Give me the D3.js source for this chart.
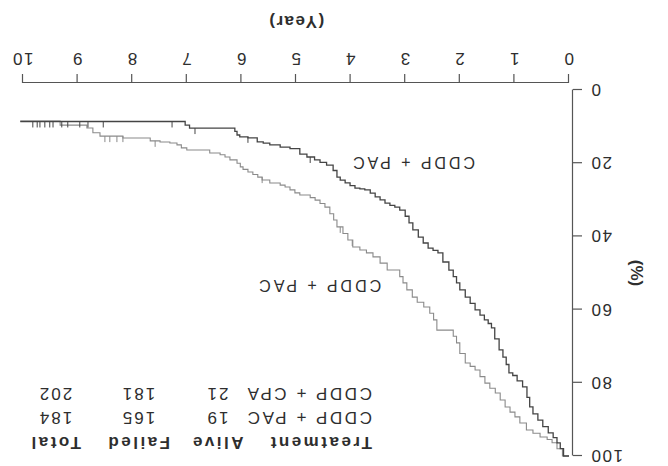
<!DOCTYPE html>
<html>
<head>
<meta charset="utf-8">
<script src="https://cdn.jsdelivr.net/npm/d3@7"></script>
<style>
  body { margin: 0; background: #fff; }
  svg { display: block; font-family: "Liberation Sans", Arial, sans-serif; }
</style>
</head>
<body>
<script>
// scanned figure is printed upside down, so the whole chart is turned 180deg
const yearTicks = [0, 1, 2, 3, 4, 5, 6, 7, 8, 9, 10];
const pctTicks = [0, 20, 40, 60, 80, 100];

// darker curve (falls faster)
const darkYears = [0, 0.1, 0.16, 0.22, 0.29, 0.38, 0.48, 0.57, 0.66, 0.72, 0.77, 0.85, 0.95, 1.03, 1.1, 1.15, 1.21, 1.28, 1.36, 1.42, 1.48, 1.55, 1.63, 1.72, 1.81, 1.9, 2.0, 2.06, 2.12, 2.2, 2.31, 2.4, 2.49, 2.58, 2.67, 2.76, 2.86, 2.93, 3.0, 3.1, 3.19, 3.28, 3.37, 3.46, 3.55, 3.64, 3.74, 3.83, 3.92, 4.01, 4.1, 4.19, 4.25, 4.32, 4.44, 4.56, 4.66, 4.8, 4.93, 5.11, 5.29, 5.48, 5.6, 5.71, 5.88, 6.03, 6.08, 6.12, 6.95, 7.03, 10.05];
const darkPct = [100, 98, 96.4, 95, 93.7, 92, 90.2, 88.5, 86.6, 84, 81.1, 79.5, 78, 77.3, 75, 73, 71, 68, 65, 63.8, 62.8, 61.5, 60.1, 58.3, 56.6, 54.6, 52.7, 51, 49.2, 47, 44.5, 43.8, 43.2, 41.8, 40.2, 38.2, 36.3, 34.5, 32.8, 32, 31.5, 30.9, 30, 29.2, 28.2, 27.3, 27, 26.8, 26.1, 25.4, 24.6, 23.8, 22, 20.5, 19.8, 19.1, 18.3, 17.5, 16, 15.6, 15, 14.5, 14.2, 13.1, 12.8, 12.3, 11.3, 10.4, 9.6, 8.6, 8.6];
const darkCensor = [4.74, 5.88, 6.85, 7.27, 8.53, 8.81, 8.96, 9.18, 9.29, 9.45, 9.51, 9.6, 9.69, 9.74, 9.82];

// lighter curve
const lightYears = [0, 0.12, 0.22, 0.31, 0.4, 0.53, 0.66, 0.78, 0.9, 0.99, 1.08, 1.17, 1.26, 1.35, 1.45, 1.54, 1.63, 1.72, 1.81, 1.9, 2.0, 2.06, 2.12, 2.42, 2.48, 2.55, 2.66, 2.78, 2.87, 2.97, 3.04, 3.1, 3.33, 3.46, 3.59, 3.71, 3.83, 3.96, 4.05, 4.14, 4.25, 4.31, 4.38, 4.47, 4.56, 4.65, 4.74, 4.93, 5.02, 5.11, 5.2, 5.29, 5.48, 5.62, 5.7, 5.79, 5.88, 5.97, 6.02, 6.08, 6.21, 6.3, 6.39, 6.58, 7.0, 7.1, 7.18, 7.31, 7.49, 7.67, 8.17, 8.59, 8.72, 8.83, 9.32, 10.05];
const lightPct = [100, 98, 96.4, 95.5, 94.8, 93.8, 92.9, 91, 89.3, 88, 86.6, 84.7, 82.8, 81.5, 80.1, 78.3, 76.5, 75.5, 74.6, 72, 69.1, 67.3, 65.6, 62.8, 61, 59.3, 58, 56.6, 54.6, 52.7, 51, 49.2, 47.3, 45.6, 44.5, 43.7, 42.9, 41, 39.2, 37.4, 35.5, 33.8, 32, 31, 30.1, 29.4, 28.7, 28.1, 27.3, 26.5, 26, 25.4, 24.6, 23.8, 23.1, 22.4, 21.7, 21, 20, 19.1, 18.3, 17.7, 17.2, 16.4, 15.8, 15, 14.5, 14.2, 13.9, 13.1, 12.6, 11.7, 10.4, 9.6, 8.5, 8.5];
const lightCensor = [3.97, 4.19, 5.62, 7.58, 8.17, 8.28, 8.41, 8.5];

// curve labels: [text, year, pct] (both read "CDDP + PAC" in the scan)
const curveLabels = [["CDDP + PAC", 1.72, 18.2], ["CDDP + PAC", 3.44, 52]];

const tableHead = ["Treatment", "Alive", "Failed", "Total"];
const tableRows = [["CDDP + PAC", 19, 165, 184], ["CDDP + CPA", 21, 181, 202]];

const W = 668, H = 466;
const svg = d3.select("body").append("svg").attr("width", W).attr("height", H);
svg.append("rect").attr("width", W).attr("height", H).attr("fill", "#fff");

const g = svg.append("g").attr("transform", `rotate(180 ${W / 2} ${H / 2})`);

const x = d3.scaleLinear().domain([0, 10]).range([99, 645]);
const y = d3.scaleLinear().domain([0, 100]).range([376, 10]);

const ink = "#2e2e2e";

// axes
const xAxis = g.append("g")
    .attr("transform", "translate(0,383)")
    .call(d3.axisBottom(x).tickValues(yearTicks).tickSize(9).tickSizeOuter(0).tickPadding(9));
const yAxis = g.append("g")
    .attr("transform", "translate(95,0)")
    .call(d3.axisLeft(y).tickValues(pctTicks).tickSize(9).tickSizeOuter(0).tickPadding(8));

[xAxis, yAxis].forEach(a => {
    a.selectAll("path, line").attr("stroke", "#555").attr("stroke-width", 1.2);
    a.selectAll("text").attr("fill", ink).style("font-size", "17px").style("letter-spacing", "1.5px");
});

g.append("text")
    .attr("x", (x(0) + x(10)) / 2).attr("y", 450)
    .attr("text-anchor", "middle")
    .attr("fill", ink).style("font-size", "17px").style("font-weight", "bold").style("letter-spacing", "1.5px")
    .text("(Year)");

g.append("text")
    .attr("transform", `translate(37,${(y(0) + y(100)) / 2}) rotate(-90)`)
    .attr("text-anchor", "middle")
    .attr("fill", ink).style("font-size", "17px").style("font-weight", "bold")
    .text("(%)");

// survival curves
const line = d3.line().x(d => x(d[0])).y(d => y(d[1])).curve(d3.curveStepAfter);

function drawCurve(years, pct, censor, color, width) {
    const pts = years.map((t, i) => [t, pct[i]]);
    g.append("path")
        .datum(pts)
        .attr("d", line)
        .attr("fill", "none")
        .attr("stroke", color)
        .attr("stroke-width", width);

    const bis = d3.bisector(d => d[0]).right;
    g.selectAll(null)
        .data(censor)
        .enter()
        .append("line")
        .attr("x1", d => x(d)).attr("x2", d => x(d))
        .attr("y1", d => y(pts[bis(pts, d) - 1][1]))
        .attr("y2", d => y(pts[bis(pts, d) - 1][1]) - 6)
        .attr("stroke", color)
        .attr("stroke-width", 1);
}

drawCurve(lightYears, lightPct, lightCensor, "#8a8a8a", 1.1);
drawCurve(darkYears, darkPct, darkCensor, "#444", 1.3);

g.selectAll(".clabel")
    .data(curveLabels)
    .enter()
    .append("text")
    .attr("class", "clabel")
    .attr("x", d => x(d[1])).attr("y", d => y(d[2]))
    .attr("fill", ink).style("font-size", "16px").style("letter-spacing", "3px")
    .text(d => d[0]);

// table of counts
const colX = [296, 451, 530, 613];
const rowY = [29, 54, 78];

g.selectAll(".head")
    .data(tableHead)
    .enter()
    .append("text")
    .attr("x", (d, i) => colX[i]).attr("y", rowY[0])
    .attr("text-anchor", (d, i) => i === 0 ? "start" : "middle")
    .attr("fill", ink).style("font-size", "17px").style("font-weight", "bold").style("letter-spacing", "2.5px")
    .text(d => d);

tableRows.forEach((row, r) => {
    g.selectAll(null)
        .data(row)
        .enter()
        .append("text")
        .attr("x", (d, i) => colX[i]).attr("y", rowY[r + 1])
        .attr("text-anchor", (d, i) => i === 0 ? "start" : "middle")
        .attr("fill", ink).style("font-size", "17px").style("letter-spacing", (d, i) => i === 0 ? "2.6px" : "2px")
        .text(d => d);
});
</script>
</body>
</html>
